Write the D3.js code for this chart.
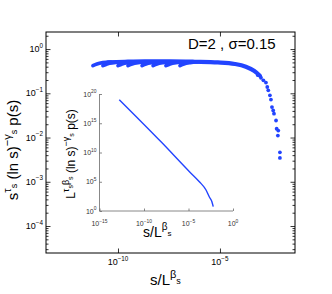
<!DOCTYPE html>
<html>
<head>
<meta charset="utf-8">
<script src="https://cdn.jsdelivr.net/npm/d3@7"></script>
<style>
  body { margin: 0; background: #fff; }
  svg { display: block; font-family: "Liberation Sans", Arial, sans-serif; }
</style>
</head>
<body>
<div id="chart"></div>
<script>
// values (x values are log10 of s/L^beta_s)
const masterX = [-10.49, -9.66, -8.68, -7.45, -6.23, -5.10, -4.27, -3.73, -3.33, -3.04];
const masterY = [0.502, 0.517, 0.528, 0.528, 0.517, 0.499, 0.461, 0.400, 0.324, 0.250];

// onset of each system size: first points of every curve before it joins the collapse
const onsetX = [
  [-11.23, -11.03, -10.74, -10.34],
  [-10.74, -10.54, -10.25, -9.85],
  [-10.00, -9.80, -9.51, -9.12],
  [-9.51, -9.31, -9.02, -8.63],
  [-8.82, -8.63, -8.33, -7.94],
  [-8.28, -8.09, -7.79, -7.40],
  [-7.65, -7.45, -7.16, -6.77],
  [-6.96, -6.77, -6.47, -6.08],
];
const onsetY = [0.422, 0.461, 0.494, 0.512];

const tailX = [-3.14, -2.99, -2.87, -2.745, -2.68, -2.63, -2.55, -2.50, -2.45, -2.39, -2.35, -2.25, -2.22, -2.14, -2.16, -2.06, -2.06];
const tailY = [0.257, 0.225, 0.197, 0.175, 0.139, 0.117, 0.090, 0.072, 0.0489, 0.0411, 0.0346, 0.0243, 0.0158, 0.0144, 0.0111, 0.00463, 0.00346];

// inset: unscaled curve, log10 values
const insetX = [-12.78, -8.03, -4.89, -3.78, -3.03, -2.67, -2.37, -2.22];
const insetY = [19.03, 11.74, 6.72, 5.01, 3.59, 2.44, 1.59, 0.74];

const mainXTicks = [-10, -5];
const mainYTicks = [0, -1, -2, -3, -4];
const insetXTicks = [-15, -10, -5, 0];
const insetYTicks = [0, 5, 10, 15, 20];

const W = 332, H = 294;
const BLUE = "#2244ff";
const main = { left: 46, right: 295, top: 32, bottom: 253 };
const inset = { left: 99.5, right: 233, top: 94, bottom: 211 };

const svg = d3.select("#chart").append("svg").attr("width", W).attr("height", H);

const x = d3.scaleLog().domain([10 ** -13.53, 10 ** -1.32]).range([main.left, main.right]);
const y = d3.scaleLog().domain([10 ** -4.61, 10 ** 0.386]).range([main.bottom, main.top]);
const xi = d3.scaleLog().domain([1e-15, 1]).range([inset.left, inset.right]);
const yi = d3.scaleLog().domain([1, 1e20]).range([inset.bottom, inset.top]);

function powLabel(sel, e, size) {
  sel.text(null);
  sel.append("tspan").attr("font-size", size).text("10");
  sel.append("tspan").attr("font-size", size * 0.7).attr("dy", -size * 0.5)
    .text(e < 0 ? "\u2212" + -e : String(e));
}

// main axes box
svg.append("rect")
  .attr("x", main.left).attr("y", main.top)
  .attr("width", main.right - main.left).attr("height", main.bottom - main.top)
  .attr("fill", "none").attr("stroke", "#000").attr("stroke-width", 1);

// y minor + major ticks, both sides
const yMinor = [];
for (let d = -5; d <= 0; d++) for (let m = 2; m <= 9; m++) {
  const v = m * 10 ** d;
  if (v > y.domain()[0] && v < y.domain()[1]) yMinor.push(v);
}
[[d3.axisRight, main.left], [d3.axisLeft, main.right]].forEach(([ax, pos]) => {
  svg.append("g").attr("transform", `translate(${pos},0)`)
    .call(ax(y).tickValues(yMinor).tickSize(2.5).tickFormat(""))
    .call((g) => g.select(".domain").remove())
    .selectAll("line").attr("stroke", "#000").attr("stroke-width", 0.8);
  svg.append("g").attr("transform", `translate(${pos},0)`)
    .call(ax(y).tickValues(mainYTicks.map((e) => 10 ** e)).tickSize(4.5).tickFormat(""))
    .call((g) => g.select(".domain").remove())
    .selectAll("line").attr("stroke", "#000").attr("stroke-width", 0.8);
});
[[d3.axisTop, main.bottom], [d3.axisBottom, main.top]].forEach(([ax, pos]) => {
  svg.append("g").attr("transform", `translate(0,${pos})`)
    .call(ax(x).tickValues(mainXTicks.map((e) => 10 ** e)).tickSize(4.5).tickFormat(""))
    .call((g) => g.select(".domain").remove())
    .selectAll("line").attr("stroke", "#000").attr("stroke-width", 0.8);
});

svg.append("g").selectAll("text").data(mainYTicks).join("text")
  .attr("x", main.left - 3).attr("y", (d) => y(10 ** d) + 3)
  .attr("text-anchor", "end").attr("fill", "#000")
  .each(function (d) { powLabel(d3.select(this), d, 9); });

svg.append("g").selectAll("text").data(mainXTicks).join("text")
  .attr("x", (d) => x(10 ** d)).attr("y", main.bottom + 12)
  .attr("text-anchor", "middle").attr("fill", "#000")
  .each(function (d) { powLabel(d3.select(this), d, 9); });

// collapsed data
const line = d3.line().x((d) => x(10 ** d[0])).y((d) => y(d[1])).curve(d3.curveMonotoneX);
const plot = svg.append("g");
onsetX.forEach((xs) => {
  plot.append("path").datum(xs.map((v, i) => [v, onsetY[i]]))
    .attr("d", line).attr("fill", "none").attr("stroke", BLUE)
    .attr("stroke-width", 3.6).attr("stroke-linecap", "round");
});
plot.append("path").datum(masterX.map((v, i) => [v, masterY[i]]))
  .attr("d", line).attr("fill", "none").attr("stroke", BLUE)
  .attr("stroke-width", 4.2).attr("stroke-linecap", "round");
plot.selectAll("circle").data(tailX.map((v, i) => [v, tailY[i]])).join("circle")
  .attr("cx", (d) => x(10 ** d[0])).attr("cy", (d) => y(d[1]))
  .attr("r", 1.9).attr("fill", BLUE);

// annotation
svg.append("text").attr("x", 188).attr("y", 49).attr("font-size", 15).attr("fill", "#000")
  .text("D=2 , \u03c3=0.15");

// main labels
const xl = svg.append("text").attr("x", 150).attr("y", 285).attr("fill", "#000").attr("font-size", 15);
xl.append("tspan").text("s/L");
xl.append("tspan").attr("font-size", 11).attr("dy", -7).text("\u03b2");
xl.append("tspan").attr("font-size", 9).attr("dy", 6).text("s");

const yl = svg.append("text").attr("transform", "translate(18,150) rotate(-90)")
  .attr("text-anchor", "middle").attr("fill", "#000").attr("font-size", 15);
yl.append("tspan").text("s");
yl.append("tspan").attr("font-size", 11).attr("dy", -7).text("\u03c4");
yl.append("tspan").attr("font-size", 9).attr("dy", 6).text("s");
yl.append("tspan").attr("dy", 1).text(" (ln s)");
yl.append("tspan").attr("font-size", 11).attr("dy", -7).text("\u2212\u03b3");
yl.append("tspan").attr("font-size", 9).attr("dy", 6).text("s");
yl.append("tspan").attr("dy", 1).text(" p(s)");

// inset
const INK = "#6a6a6a";
svg.append("path")
  .attr("d", `M${inset.left},${inset.top}V${inset.bottom}H${inset.right}`)
  .attr("fill", "none").attr("stroke", INK).attr("stroke-width", 0.8);
svg.append("g").attr("transform", `translate(0,${inset.bottom})`)
  .call(d3.axisTop(xi).tickValues(insetXTicks.map((e) => 10 ** e)).tickSize(2.5).tickFormat(""))
  .call((g) => g.select(".domain").remove())
  .selectAll("line").attr("stroke", INK).attr("stroke-width", 0.8);
svg.append("g").attr("transform", `translate(${inset.left},0)`)
  .call(d3.axisRight(yi).tickValues(insetYTicks.map((e) => 10 ** e)).tickSize(2.5).tickFormat(""))
  .call((g) => g.select(".domain").remove())
  .selectAll("line").attr("stroke", INK).attr("stroke-width", 0.8);

svg.append("g").selectAll("text").data(insetXTicks).join("text")
  .attr("x", (d) => xi(10 ** d)).attr("y", inset.bottom + 15)
  .attr("text-anchor", "middle").attr("fill", "#333")
  .each(function (d) { powLabel(d3.select(this), d, 7); });
svg.append("g").selectAll("text").data(insetYTicks).join("text")
  .attr("x", inset.left - 3).attr("y", (d) => yi(10 ** d) + 2.5)
  .attr("text-anchor", "end").attr("fill", "#333")
  .each(function (d) { powLabel(d3.select(this), d, 7); });

svg.append("path").datum(insetX.map((v, i) => [v, insetY[i]]))
  .attr("d", d3.line().x((d) => xi(10 ** d[0])).y((d) => yi(10 ** d[1])).curve(d3.curveMonotoneX))
  .attr("fill", "none").attr("stroke", BLUE).attr("stroke-width", 1.4);

const ixl = svg.append("text").attr("x", 143).attr("y", 237).attr("fill", "#000").attr("font-size", 14);
ixl.append("tspan").text("s/L");
ixl.append("tspan").attr("font-size", 10).attr("dy", -7).text("\u03b2");
ixl.append("tspan").attr("font-size", 8).attr("dy", 6).text("s");

const iyl = svg.append("text").attr("transform", "translate(75,154) rotate(-90)")
  .attr("text-anchor", "middle").attr("fill", "#000").attr("font-size", 12);
iyl.append("tspan").text("L");
iyl.append("tspan").attr("font-size", 9).attr("dy", -6).text("\u03c4");
iyl.append("tspan").attr("font-size", 7).attr("dy", 4).text("s");
iyl.append("tspan").attr("font-size", 9).attr("dy", -4).text("\u03b2");
iyl.append("tspan").attr("font-size", 7).attr("dy", 4).text("s");
iyl.append("tspan").attr("dy", 2).text(" (ln s)");
iyl.append("tspan").attr("font-size", 9).attr("dy", -6).text("\u2212\u03b3");
iyl.append("tspan").attr("font-size", 7).attr("dy", 5).text("s");
iyl.append("tspan").attr("dy", 1).text(" p(s)");
</script>
</body>
</html>
